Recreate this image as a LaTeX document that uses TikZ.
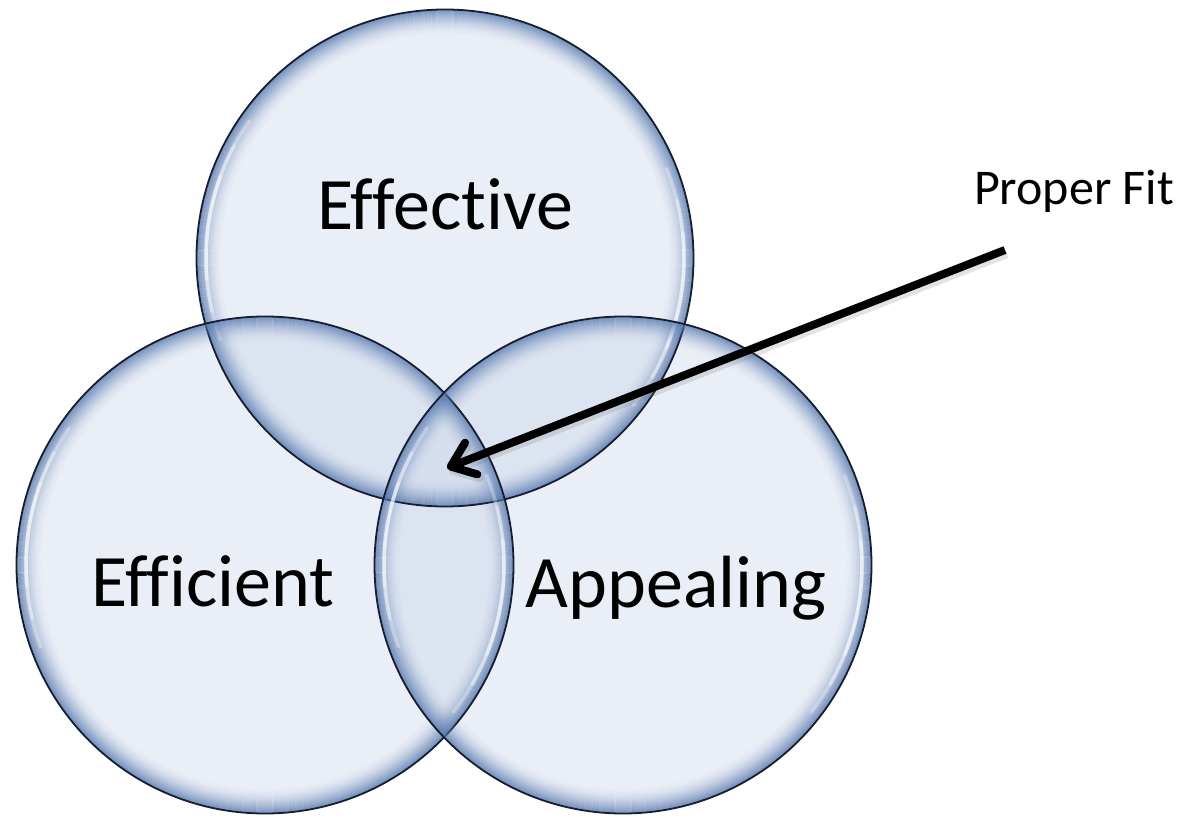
\documentclass[tikz,border=0pt]{standalone}
\usepackage{fontspec}
\setmainfont[Ligatures=NoCommon]{Carlito}
\usetikzlibrary{arrows.meta}

\definecolor{bubblefill}{RGB}{203,214,234}
\definecolor{rimblue}{RGB}{88,122,175}
\definecolor{rimdark}{RGB}{22,30,48}

\tikzset{
  bubble/.style={circle, minimum size=498pt, inner sep=0pt,
                 fill=bubblefill, fill opacity=0.4},
  bigword/.style={font=\fontsize{74}{80}\selectfont, anchor=base, text=black},
  smallword/.style={font=\fontsize{50}{56}\selectfont, anchor=base, text=black},
  pointer/.style={line width=8pt, black,
                  -{Straight Barb[length=22pt, width=34pt, round]}},
  pointershade/.style={line width=8pt, black!60, opacity=0.18,
                  -{Straight Barb[length=22pt, width=34pt, round]}},
}

% glassy rim of a bubble: soft blue band, white gleams, dark outline
\newcommand\glassrim[1]{%
  \foreach \k in {0,...,25}{%
    \pgfmathsetmacro\op{0.75*(1-\k/26)^2}%
    \draw[rimblue, line width=1.2pt, draw opacity=\op]
      (#1.center) circle[radius={(248-\k)*1pt}];
  }%
  \foreach \a/\b/\o in {145/200/0.3, 152/193/0.35, 160/185/0.4,
                        -38/22/0.3, -30/14/0.35, -22/6/0.4}{%
    \draw[white, line width=3.5pt, draw opacity=\o, line cap=round]
      (#1.center) ++(\a:239pt) arc[start angle=\a, end angle=\b, radius=239pt];
  }%
  \draw[rimdark, line width=1.8pt] (#1.center) circle[radius=248.5pt];
}

\begin{document}
\begin{tikzpicture}[x=1pt, y=1pt]
  \useasboundingbox[fill=white] (0,0) rectangle (1192,-818);

  % the three overlapping bubbles
  \node[bubble] (top)   at (445,-258) {};
  \node[bubble] (left)  at (265,-565) {};
  \node[bubble] (right) at (623,-565) {};
  \glassrim{top}
  \glassrim{left}
  \glassrim{right}

  % bubble captions
  \node[bigword] (effective) at (445,-230) {Effective};
  \node[bigword] (efficient) at (213,-606) {Efficient};
  \node[bigword] (appealing) at (676,-607) {Appealing};

  % callout pointing into the common centre
  \node[smallword] (fit) at (1074,-205) {Proper Fit};
  \coordinate (tail) at (1005,-250);
  \coordinate (tip)  at (447,-468);
  \coordinate (tailshade) at (1007,-254);
  \coordinate (tipshade)  at (449,-472);
  \draw[pointershade] (tailshade) -- (tipshade);
  \draw[pointer] (tail) -- (tip);
\end{tikzpicture}
\end{document}
